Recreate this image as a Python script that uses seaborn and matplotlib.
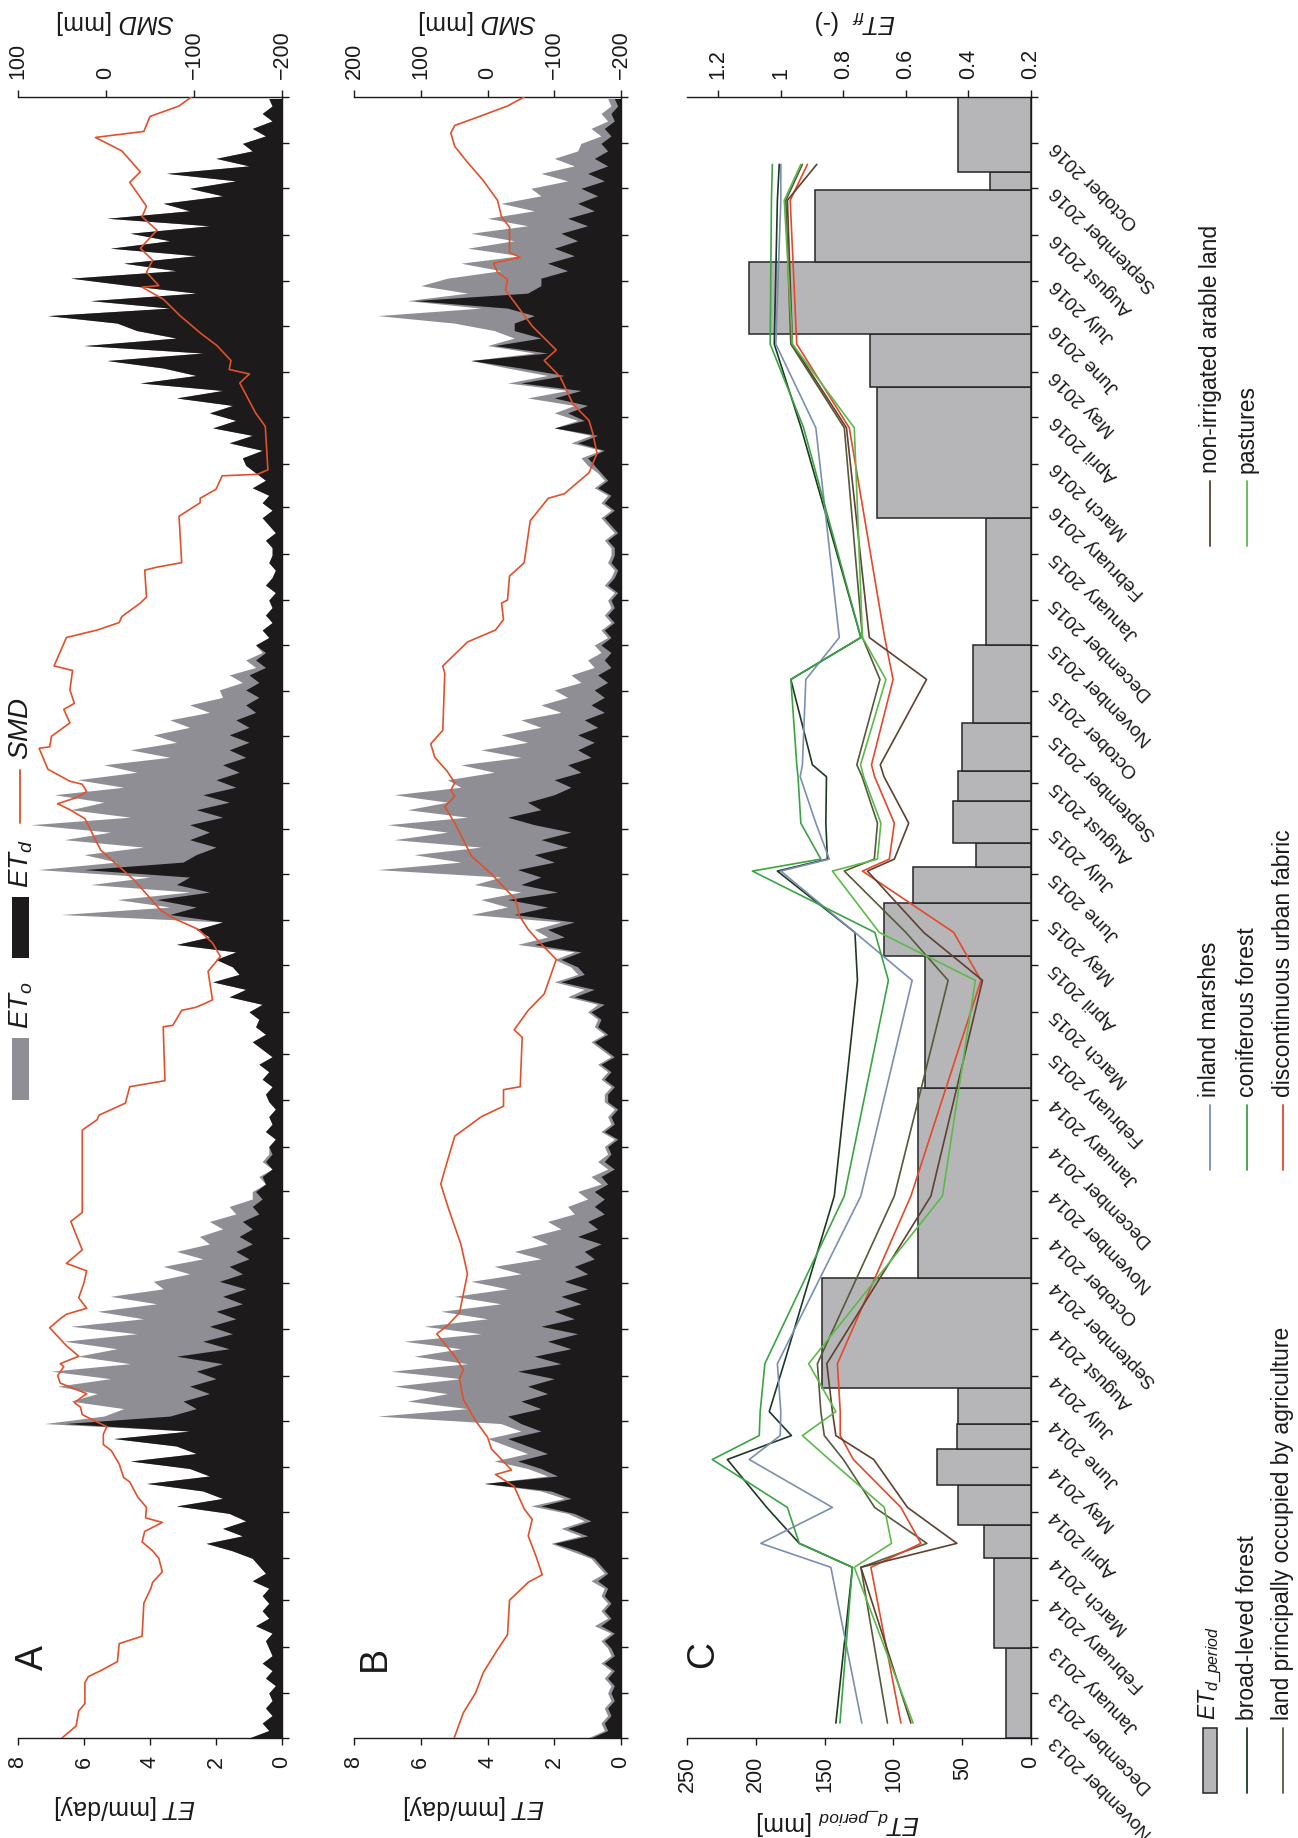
import numpy as np
import pandas as pd
import matplotlib
matplotlib.use("Agg")
import matplotlib.pyplot as plt
from matplotlib.patches import Rectangle
from matplotlib.transforms import ScaledTranslation
import seaborn as sns

# ------------------------------------------------------------------ data
START = pd.Timestamp("2013-11-01")
END = pd.Timestamp("2016-11-01")
STEP_DAYS = 5  # ET samples every 5 days starting 1 Nov 2013

# Site A: reference ET (ETo) and actual ET (ETd), mm/day, one row per month
ETO_A = [
    1.0, 0.4, 0.6, 0.3, 0.5, 0.3,            # Nov 2013
    0.4, 0.2, 0.5, 0.3, 0.6, 0.3, 0.4,       # Dec
    0.5, 0.3, 0.8, 0.4, 0.6, 0.4,            # Jan 2014
    0.6, 0.4, 0.9, 0.5, 0.7,                 # Feb
    0.9, 1.5, 2.3, 1.2, 1.8, 1.1, 1.6,       # Mar
    3.2, 1.8, 2.4, 4.1, 2.2, 2.8,            # Apr
    4.6, 2.6, 3.2, 5.1, 2.8, 7.2,            # May
    5.4, 4.8, 6.4, 5.6, 6.8, 5.2,            # Jun
    7.0, 4.6, 6.2, 5.0, 6.6, 4.4,            # Jul
    6.4, 4.2, 5.6, 3.8, 5.2, 3.6,            # Aug
    3.9, 2.8, 3.6, 2.4, 3.2, 2.2,            # Sep
    2.5, 1.8, 2.2, 1.4, 1.6, 0.9,            # Oct
    0.9, 0.5, 0.7, 0.3, 0.6, 0.4,            # Nov 2014
    0.4, 0.2, 0.5, 0.3, 0.4, 0.2, 0.4,       # Dec
    0.5, 0.3, 0.6, 0.4, 0.7, 0.3,            # Jan 2015
    0.6, 0.9, 0.5, 0.8, 0.7,                 # Feb
    1.0, 0.6, 1.6, 1.1, 2.1, 1.3, 1.5,       # Mar
    2.0, 1.4, 3.2, 2.2, 2.6, 1.8,            # Apr
    6.7, 3.4, 5.0, 2.8, 5.8, 4.0,            # May
    7.4, 5.0, 6.0, 4.2, 6.6, 5.2,            # Jun
    7.6, 4.6, 6.4, 5.4, 6.9, 4.8,            # Jul
    6.2, 4.4, 5.4, 3.4, 4.6, 3.2,            # Aug
    3.9, 2.8, 3.4, 2.2, 2.8, 1.8,            # Sep
    1.9, 1.2, 1.6, 0.8, 1.1, 0.6,            # Oct
    0.8, 0.4, 0.6, 0.3, 0.5, 0.3,            # Nov 2015
    0.4, 0.2, 0.5, 0.3, 0.2, 0.4, 0.3,       # Dec
    0.3, 0.5, 0.2, 0.4, 0.6, 0.3,            # Jan 2016
    0.6, 0.4, 0.9, 0.5, 0.8, 1.1,            # Feb
    1.2, 0.6, 1.6, 0.9, 2.1, 1.4,            # Mar
    2.2, 1.5, 3.2, 1.8, 4.3, 2.6,            # Apr
    3.6, 5.3, 2.4, 6.0, 3.2, 4.4,            # May
    5.0, 7.1, 3.4, 5.8, 2.6, 4.6,            # Jun
    6.4, 3.2, 4.8, 2.6, 5.2, 3.4,            # Jul
    4.6, 2.2, 5.3, 2.8, 3.6, 1.8,            # Aug
    2.8, 1.4, 3.5, 1.0, 2.0, 0.9,            # Sep
    1.2, 0.5, 0.9, 0.3, 0.6, 0.3, 0.4,       # Oct
]
ETD_A = [
    1.0, 0.4, 0.6, 0.3, 0.5, 0.3,
    0.4, 0.2, 0.5, 0.3, 0.6, 0.3, 0.4,
    0.5, 0.3, 0.8, 0.4, 0.6, 0.4,
    0.6, 0.4, 0.9, 0.5, 0.7,
    0.9, 1.5, 2.3, 1.2, 1.8, 1.1, 1.6,
    3.2, 1.8, 2.4, 4.1, 2.2, 2.8,
    4.6, 2.6, 3.2, 5.1, 2.8, 6.6,
    3.4, 2.6, 3.0, 2.2, 2.8, 2.0,
    2.6, 1.8, 3.2, 1.6, 2.4, 1.5,
    2.2, 1.4, 2.0, 1.2, 1.8, 1.1,
    1.9, 1.2, 1.6, 1.0, 1.4, 0.9,
    1.3, 0.9, 1.2, 0.7, 0.9, 0.6,
    0.8, 0.5, 0.6, 0.3, 0.5, 0.3,
    0.4, 0.2, 0.5, 0.3, 0.4, 0.2, 0.4,
    0.5, 0.3, 0.6, 0.4, 0.7, 0.3,
    0.6, 0.9, 0.5, 0.8, 0.7,
    1.0, 0.6, 1.6, 1.1, 2.1, 1.3, 1.5,
    2.0, 1.4, 3.2, 2.2, 2.6, 1.8,
    3.4, 2.6, 3.8, 2.2, 3.2, 2.8,
    6.0, 3.0, 2.6, 2.0, 2.8, 2.2,
    2.8, 1.8, 2.6, 1.6, 2.4, 1.4,
    2.0, 1.3, 1.8, 1.1, 1.6, 1.0,
    1.6, 1.0, 1.4, 0.8, 1.1, 0.7,
    1.1, 0.7, 1.0, 0.5, 0.8, 0.5,
    0.8, 0.4, 0.6, 0.3, 0.5, 0.3,
    0.4, 0.2, 0.5, 0.3, 0.2, 0.4, 0.3,
    0.3, 0.5, 0.2, 0.4, 0.6, 0.3,
    0.6, 0.4, 0.9, 0.5, 0.8, 1.1,
    1.2, 0.6, 1.6, 0.9, 2.1, 1.4,
    2.2, 1.5, 3.2, 1.8, 4.3, 2.6,
    3.6, 5.3, 2.4, 6.0, 3.2, 4.4,
    5.0, 7.1, 3.4, 5.8, 2.6, 4.6,
    6.4, 3.2, 4.8, 2.6, 5.2, 3.4,
    4.6, 2.2, 5.3, 2.8, 3.6, 1.8,
    2.8, 1.4, 3.5, 1.0, 2.0, 0.9,
    1.2, 0.5, 0.9, 0.3, 0.6, 0.3, 0.4,
]

# Site B
ETO_B = [
    1.0, 0.5, 0.6, 0.4, 0.5, 0.3,
    0.4, 0.3, 0.5, 0.3, 0.6, 0.3, 0.4,
    0.6, 0.3, 0.8, 0.4, 0.6, 0.4,
    0.6, 0.5, 0.9, 0.5, 0.7,
    0.9, 1.5, 2.1, 1.2, 1.8, 1.1, 1.6,
    2.7, 1.7, 2.4, 4.1, 2.2, 2.8,
    3.8, 2.8, 3.4, 4.0, 3.0, 3.6,
    7.3, 4.6, 6.4, 5.2, 6.8, 4.8,
    6.9, 4.6, 6.2, 4.8, 6.5, 4.2,
    5.9, 4.0, 5.4, 3.6, 5.0, 3.4,
    4.5, 3.0, 3.8, 2.4, 3.2, 2.2,
    2.7, 1.8, 2.2, 1.4, 1.6, 1.0,
    1.3, 0.6, 0.9, 0.4, 0.7, 0.4,
    0.5, 0.2, 0.6, 0.3, 0.4, 0.2, 0.5,
    0.5, 0.3, 0.6, 0.4, 0.7, 0.3,
    0.6, 0.9, 0.5, 0.8, 0.7,
    1.0, 0.7, 1.6, 1.1, 2.0, 1.3, 1.5,
    2.0, 1.4, 3.1, 2.2, 2.6, 1.8,
    4.5, 3.4, 4.2, 3.0, 4.4, 3.6,
    7.3, 4.8, 6.2, 4.2, 6.8, 5.2,
    7.0, 4.6, 6.4, 5.2, 6.8, 4.8,
    5.2, 3.8, 4.8, 3.0, 4.2, 2.8,
    3.6, 2.4, 3.0, 1.8, 2.4, 1.6,
    2.0, 1.2, 1.5, 0.8, 1.0, 0.6,
    0.8, 0.4, 0.6, 0.3, 0.5, 0.3,
    0.4, 0.2, 0.5, 0.3, 0.2, 0.4, 0.3,
    0.3, 0.5, 0.2, 0.4, 0.6, 0.3,
    0.6, 0.4, 0.8, 0.5, 0.7, 1.0,
    1.2, 0.6, 1.5, 0.9, 2.0, 1.3,
    2.0, 1.4, 2.8, 1.6, 3.4, 2.2,
    3.4, 4.5, 2.6, 4.0, 3.2, 3.8,
    5.0, 7.3, 4.2, 6.4, 4.6, 6.0,
    5.2, 3.6, 4.8, 3.0, 4.6, 3.2,
    4.5, 2.8, 4.0, 2.6, 3.6, 2.4,
    2.7, 1.6, 2.4, 1.4, 2.0, 1.3,
    1.2, 0.6, 0.9, 0.4, 0.6, 0.3, 0.4,
]
ETD_B = [
    0.9, 0.4, 0.5, 0.3, 0.4, 0.2,
    0.3, 0.2, 0.4, 0.2, 0.5, 0.2, 0.3,
    0.5, 0.2, 0.6, 0.3, 0.5, 0.3,
    0.5, 0.4, 0.7, 0.4, 0.6,
    0.8, 1.3, 2.0, 1.0, 1.6, 0.9, 1.4,
    2.4, 1.5, 2.1, 4.1, 1.9, 2.4,
    3.1, 2.2, 2.8, 3.4, 2.4, 3.0,
    3.4, 2.4, 3.0, 2.2, 2.8, 2.0,
    3.1, 1.8, 2.6, 1.5, 2.2, 1.3,
    2.4, 1.4, 2.0, 1.2, 1.8, 1.0,
    1.7, 1.0, 1.4, 0.8, 1.1, 0.6,
    1.3, 0.7, 1.0, 0.5, 0.8, 0.5,
    0.8, 0.4, 0.6, 0.2, 0.5, 0.3,
    0.4, 0.1, 0.5, 0.2, 0.3, 0.1, 0.4,
    0.4, 0.2, 0.5, 0.3, 0.6, 0.2,
    0.5, 0.8, 0.4, 0.7, 0.6,
    0.9, 0.5, 1.4, 0.8, 1.8, 1.1, 1.3,
    1.8, 1.2, 2.6, 1.7, 2.2, 1.4,
    3.2, 2.2, 3.4, 1.9, 3.0, 2.4,
    3.1, 2.0, 2.6, 1.6, 2.4, 1.5,
    2.6, 3.4, 2.4, 2.8, 2.0, 1.5,
    2.0, 1.2, 1.6, 0.9, 1.3, 0.8,
    1.3, 0.7, 1.1, 0.5, 0.9, 0.5,
    0.8, 0.4, 0.7, 0.3, 0.5, 0.3,
    0.6, 0.3, 0.5, 0.2, 0.4, 0.2,
    0.3, 0.1, 0.4, 0.2, 0.1, 0.3, 0.2,
    0.2, 0.4, 0.1, 0.3, 0.5, 0.2,
    0.5, 0.3, 0.7, 0.4, 0.6, 0.8,
    1.0, 0.5, 1.3, 0.7, 2.0, 1.1,
    1.6, 1.0, 2.0, 1.2, 3.0, 1.7,
    3.0, 4.5, 2.2, 3.8, 2.4, 3.2,
    3.2, 2.6, 3.4, 6.2, 2.8, 2.4,
    2.4, 1.6, 2.2, 1.4, 2.0, 1.3,
    1.8, 1.0, 1.6, 0.8, 1.3, 0.7,
    1.2, 0.5, 1.0, 0.4, 0.8, 0.4,
    0.6, 0.3, 0.5, 0.2, 0.3, 0.1, 0.2,
]

# Soil moisture deficit (mm), day since 1 Nov 2013
SMD_A_DAY = [0, 8, 18, 23, 37, 41, 45, 51, 63, 68, 90, 100, 104, 111, 120, 125,
             131, 138, 144, 147, 154, 161, 171, 174, 183, 192, 196, 203, 208, 211,
             216, 221, 224, 230, 237, 242, 248, 250, 255, 262, 274, 280, 283, 287,
             294, 304, 312, 317, 326, 345, 351, 370, 406, 413, 416, 424, 435, 439,
             475, 476, 486, 488, 491, 493, 512, 522, 531, 540, 548, 553, 573, 593,
             614, 620, 624, 628, 632, 637, 639, 647, 661, 662, 669, 678, 687, 691,
             700, 713, 716, 735, 740, 745, 749, 758, 762, 780, 782, 785, 816, 825,
             828, 834, 843, 844, 847, 876, 885, 905, 911, 914, 920, 930, 938, 950,
             961, 969, 970, 979, 987, 995, 1007, 1016, 1023, 1039, 1046, 1060, 1069,
             1073, 1083, 1090, 1096]
SMD_A_MM = [50, 34, 31, 24, 24, 20, 6, -13, -15, -41, -43, -51, -53, -64, -60, -53,
            -41, -44, -64, -45, -46, -36, -27, -20, -15, -6, 3, 3, -1, 10,
            27, 29, 36, 22, 52, 55, 48, 52, 31, 45, 64, 52, 45, 22,
            31, 25, 22, 45, 27, 40, 27, 27, 27, 10, 8, -22, -27, -67,
            -65, -76, -86, -102, -114, -121, -116, -130, -121, -105, -75, -62, -32, 6,
            24, 41, 55, 34, 22, 27, 41, 66, 76, 64, 62, 41, 48, 36,
            41, 38, 59, 45, 10, -15, -18, -39, -46, -44, -58, -86, -83, -107,
            -107, -125, -132, -172, -184, -181, -170, -152, -163, -140, -142, -126, -108, -84,
            -65, -41, -60, -46, -53, -39, -58, -41, -46, -27, -39, -18, 12,
            -43, -50, -83, -97]
SMD_B_DAY = [0, 17, 30, 44, 59, 69, 92, 104, 109, 121, 135, 146, 153, 168, 176, 179,
             193, 201, 212, 226, 240, 246, 255, 270, 275, 284, 310, 330, 353, 370,
             384, 402, 415, 422, 433, 435, 468, 473, 486, 497, 520, 531, 540, 549,
             560, 577, 589, 611, 622, 629, 633, 638, 646, 655, 664, 673, 711, 716,
             732, 740, 747, 758, 760, 776, 785, 813, 828, 831, 845, 858, 871, 880,
             891, 909, 920, 927, 943, 967, 974, 979, 985, 989, 992, 1009, 1016, 1027,
             1040, 1054, 1063, 1072, 1077, 1084, 1090, 1096]
SMD_B_MM = [50, 36, 18, 6, -15, -30, -33, -61, -82, -73, -61, -67, -55, -40, -12, -36,
            -6, 0, 18, 36, 42, 36, 49, 76, 61, 42, 30, 40, 58, 70,
            61, 49, 9, -24, -24, -49, -52, -40, -61, -85, -103, -79, -61, -48,
            -42, -6, 24, 49, 64, 49, 55, 49, 61, 79, 85, 67, 64, 67,
            30, -12, -24, -21, -30, -33, -55, -64, -91, -115, -152, -164, -158, -152,
            -128, -109, -85, -103, -67, -27, -30, -15, -9, -49, -33, -33, -21, -15,
            6, 33, 49, 55, 49, 6, -30, -55]

# Panel C: ET per period between images (bars)
BAR_START = [0, 60, 120, 142, 169, 193, 210, 234, 307, 434, 522, 558, 582, 598,
             626, 646, 678, 730, 815, 902, 938, 986, 1034, 1046]
BAR_END = [60, 120, 142, 169, 193, 210, 234, 307, 434, 522, 558, 582, 598, 626,
           646, 678, 730, 815, 902, 938, 986, 1034, 1046, 1096]
BAR_MM = [18, 27, 34, 53, 68, 54, 53, 152, 82, 77, 107, 86, 40, 57,
          53, 50, 42, 33, 112, 117, 205, 157, 30, 53]

# Panel C: ET fraction per land cover class
FF_DAY = [10, 114, 130, 154, 186, 202, 218, 250, 362, 506, 538, 579, 587, 611,
          642, 650, 707, 735, 875, 931, 1027, 1051]
FF_BROAD = [0.824, 0.771, 0.941, 1.045, 1.171, 0.966, 1.037, 0.990, 0.829, 0.755, 0.763,
            1.011, 0.851, 0.856, 0.854, 0.899, 0.968, 0.744, 0.935, 1.021, 1.011, 1.005]
FF_AGRI = [0.659, 0.744, 0.533, 0.700, 0.800, 0.861, 0.872, 0.883, 0.637, 0.465, 0.600,
           0.797, 0.701, 0.691, 0.740, 0.757, 0.683, 0.739, 0.797, 0.968, 0.984, 0.931]
FF_MARSH = [0.741, 0.840, 1.064, 0.835, 1.101, 1.002, 1.000, 1.011, 0.744, 0.580, 0.763,
            1.000, 0.845, 0.888, 0.938, 0.931, 0.920, 0.813, 0.888, 1.016, 1.000, 1.000]
FF_CONIF = [0.811, 0.771, 0.941, 0.979, 1.219, 1.069, 1.066, 1.051, 0.797, 0.656, 0.699,
            1.091, 0.872, 0.936, 0.945, 0.949, 0.968, 0.744, 0.927, 1.034, 1.030, 1.027]
FF_URBAN = [0.616, 0.712, 0.552, 0.616, 0.768, 0.810, 0.810, 0.819, 0.584, 0.360, 0.447,
            0.739, 0.653, 0.637, 0.700, 0.710, 0.641, 0.668, 0.781, 0.949, 0.970, 0.915]
FF_ARABLE = [0.584, 0.744, 0.437, 0.595, 0.703, 0.824, 0.835, 0.853, 0.520, 0.355, 0.543,
             0.723, 0.637, 0.591, 0.670, 0.682, 0.534, 0.717, 0.790, 0.963, 0.979, 0.885]
FF_PASTURE = [0.577, 0.765, 0.646, 0.669, 0.845, 0.931, 0.824, 0.911, 0.483, 0.378, 0.685,
              0.835, 0.691, 0.680, 0.735, 0.745, 0.664, 0.739, 0.765, 0.963, 0.989, 0.936]

CLASSES = ["broad-leved forest", "land principally occupied by agriculture",
           "inland marshes", "coniferous forest", "discontinuous urban fabric",
           "non-irrigated arable land", "pastures"]
CLASS_VALUES = [FF_BROAD, FF_AGRI, FF_MARSH, FF_CONIF, FF_URBAN, FF_ARABLE, FF_PASTURE]
CLASS_COLORS = ["#1d3a22", "#56593a", "#7b8fb2", "#3aa443", "#e5482a", "#5f4130", "#5cba4b"]

MONTH_LABELS = [
    "November 2013", "December 2013", "January 2013", "February 2014", "March 2014",
    "April 2014", "May 2014", "June 2014", "July 2014", "August 2014",
    "September 2014", "October 2014", "November 2014", "December 2014", "January 2014",
    "February 2015", "March 2015", "April 2015", "May 2015", "June 2015", "July 2015",
    "August 2015", "September 2015", "October 2015", "November 2015", "December 2015",
    "January 2015", "February 2016", "March 2016", "April 2016", "May 2016", "June 2016",
    "July 2016", "August 2016", "September 2016", "October 2016",
]

# ------------------------------------------------------------------ style
C_ETO = "#8e8e94"
C_ETD = "#1c1a1a"
C_SMD = "#e2502a"
C_BAR = "#b6b6b9"
C_EDGE = "#262626"

sns.set_theme(style="ticks")
plt.rcParams.update({
    "font.family": ["Liberation Sans", "DejaVu Sans"],
    "mathtext.fontset": "custom",
    "mathtext.rm": "Liberation Sans",
    "mathtext.it": "Liberation Sans:italic",
    "mathtext.bf": "Liberation Sans:bold",
    "axes.linewidth": 1.0,
    "axes.edgecolor": "#1a1a1a",
    "xtick.color": "#1a1a1a",
    "ytick.color": "#1a1a1a",
    "text.color": "#1a1a1a",
    "axes.labelcolor": "#1a1a1a",
})

W, H, DPI = 1298, 1838, 100
fig = plt.figure(figsize=(W / DPI, H / DPI), dpi=DPI)
fig.patch.set_facecolor("white")

TOP, BOT = 97, 1738
N_DAYS = (END - START).days
month_starts = pd.date_range(START, END, freq="MS")
tick_days = (month_starts - START).days.values


def axes_px(x0, x1, y0, y1):
    return fig.add_axes([x0 / W, 1 - y1 / H, (x1 - x0) / W, (y1 - y0) / H])


def style_time_axis(ax):
    ax.set_ylim(0, N_DAYS)
    ax.yaxis.tick_right()
    ax.set_yticks(tick_days)
    ax.tick_params(axis="y", direction="out", length=5, width=1.0,
                   left=False, right=True, labelleft=False, labelright=False)
    ax.spines["left"].set_visible(False)
    ax.spines["top"].set_visible(False)
    ax.set_ylabel("")


def style_top_twin(tw, ticks, labels, label, lab_x):
    tw.set_ylim(0, N_DAYS)
    tw.yaxis.set_visible(False)
    for side in ("left", "right", "bottom"):
        tw.spines[side].set_visible(False)
    tw.set_xticks(ticks)
    tw.set_xticklabels(labels)
    tw.tick_params(axis="x", direction="out", length=5, width=1.0, pad=8,
                   labelsize=15.5, labelrotation=90, top=True, bottom=False)
    tw.set_xlabel(label, fontsize=18, rotation=180)
    tw.xaxis.set_label_position("top")
    tw.xaxis.set_label_coords(lab_x, 1.046)
    tw.xaxis.label.set_va("center")
    tw.set_ylabel("")


def et_panel(ax, eto, etd, smd_day, smd_mm, smd_lim, smd_ticks, lab_bot, lab_top):
    ax.fill_betweenx(np.arange(len(eto)) * STEP_DAYS, 0, eto, color=C_ETO, lw=0, zorder=1)
    ax.fill_betweenx(np.arange(len(etd)) * STEP_DAYS, 0, etd, color=C_ETD, lw=0, zorder=2)
    ax.set_xlim(8, 0)
    ax.set_xticks([0, 2, 4, 6, 8])
    ax.tick_params(axis="x", direction="out", length=5, width=1.0, pad=8,
                   labelsize=15.5, labelrotation=90)
    style_time_axis(ax)
    ax.set_xlabel("$ET$ [mm/day]", fontsize=18, rotation=180)
    ax.xaxis.set_label_coords(lab_bot, -0.042)
    ax.xaxis.label.set_va("center")

    tw = ax.twiny()
    sns.lineplot(x=smd_mm, y=smd_day, ax=tw, orient="y", sort=False,
                 estimator=None, color=C_SMD, linewidth=1.2, zorder=3)
    tw.set_xlim(*smd_lim)
    style_top_twin(tw, smd_ticks, [f"{t}".replace("-", "\u2212") for t in smd_ticks],
                   "$SMD$ [mm]", lab_top)
    return tw


ax_a = axes_px(18, 282, TOP, BOT)
ax_b = axes_px(354, 621, TOP, BOT)
ax_c = axes_px(687, 1031, TOP, BOT)

et_panel(ax_a, ETO_A, ETD_A, SMD_A_DAY, SMD_A_MM, (100, -200), [-200, -100, 0, 100], 0.405, 0.371)
et_panel(ax_b, ETO_B, ETD_B, SMD_B_DAY, SMD_B_MM, (200, -200), [-200, -100, 0, 100, 200], 0.449, 0.464)

# ---- panel C: period bars + ET fraction lines
ax_c.barh(BAR_START, BAR_MM, height=np.subtract(BAR_END, BAR_START), align="edge",
          color=C_BAR, edgecolor=C_EDGE, linewidth=1.1, zorder=2)
ax_c.set_xlim(250, 0)
ax_c.set_xticks(range(0, 251, 50))
ax_c.tick_params(axis="x", direction="out", length=5, width=1.0, pad=8,
                 labelsize=15.5, labelrotation=90)
style_time_axis(ax_c)
ax_c.tick_params(axis="y", labelright=True, labelsize=13.8, pad=7)
ax_c.set_yticklabels(MONTH_LABELS + [""])
# month names hang down-right from each month start, nudged slightly upward
lift = ScaledTranslation(0, 0.05, fig.dpi_scale_trans)
for lab in ax_c.get_yticklabels():
    lab.set_rotation(135)
    lab.set_ha("left")
    lab.set_va("top")
    lab.set_rotation_mode("default")
    lab.set_transform(lab.get_transform() + lift)
ax_c.set_xlabel("$ET_{d\\_period}$ [mm]", fontsize=18, rotation=180)
ax_c.xaxis.set_label_coords(0.44, -0.051)
ax_c.xaxis.label.set_va("center")

ff = pd.DataFrame({
    "day": np.tile(FF_DAY, len(CLASSES)),
    "etff": np.concatenate(CLASS_VALUES),
    "cover": np.repeat(CLASSES, len(FF_DAY)),
})
ax_ff = ax_c.twiny()
sns.lineplot(data=ff, x="etff", y="day", hue="cover", hue_order=CLASSES,
             palette=CLASS_COLORS, ax=ax_ff, orient="y", sort=False,
             estimator=None, linewidth=1.2, legend=False)
ax_ff.set_xlim(1.3, 0.2)
style_top_twin(ax_ff, [0.2, 0.4, 0.6, 0.8, 1.0, 1.2],
               ["0.2", "0.4", "0.6", "0.8", "1", "1.2"], "$ET_{ff}$  (-)", 0.488)

# ---- legends and panel letters (pixel overlay)
ov = fig.add_axes([0, 0, 1, 1], zorder=20)
ov.set_xlim(0, W)
ov.set_ylim(H, 0)
ov.axis("off")

leg_kw = dict(rotation=90, rotation_mode="anchor", ha="left", va="center")
ov.add_patch(Rectangle((12, 1038), 17, 62, facecolor=C_ETO, edgecolor="none"))
ov.text(21, 1029, "$ET_o$", fontsize=20, **leg_kw)
ov.add_patch(Rectangle((12, 897), 17, 61, facecolor=C_ETD, edgecolor="none"))
ov.text(21, 888, "$ET_d$", fontsize=20, **leg_kw)
ov.plot([20, 20], [770, 823], color=C_SMD, lw=1.3)
ov.text(21, 760, "$SMD$", fontsize=20, **leg_kw)

cols_x = [1210, 1247, 1283]
groups = [
    (1720, [("box", C_BAR, "$ET_{d\\_period}$"),
            ("line", CLASS_COLORS[0], CLASSES[0]),
            ("line", CLASS_COLORS[1], CLASSES[1])]),
    (1097, [("line", CLASS_COLORS[2], CLASSES[2]),
            ("line", CLASS_COLORS[3], CLASSES[3]),
            ("line", CLASS_COLORS[4], CLASSES[4])]),
    (473, [("line", CLASS_COLORS[5], CLASSES[5]),
           ("line", CLASS_COLORS[6], CLASSES[6])]),
]
for y_txt, entries in groups:
    for x, (kind, col, name) in zip(cols_x, entries):
        if kind == "box":
            ov.add_patch(Rectangle((x - 7, y_txt + 8), 14, 65, facecolor=col,
                                   edgecolor=C_EDGE, lw=1.1))
        else:
            ov.plot([x, x], [y_txt + 8, y_txt + 73], color=col, lw=1.3)
        ov.text(x, y_txt, name, fontsize=16.5, **leg_kw)

for x, y, letter in [(33, 1658, "A"), (375, 1658, "B"), (703, 1654, "C")]:
    ov.text(x, y, letter, fontsize=27, rotation=90, ha="center", va="center")

fig.savefig("out.png", dpi=DPI, facecolor="white")
